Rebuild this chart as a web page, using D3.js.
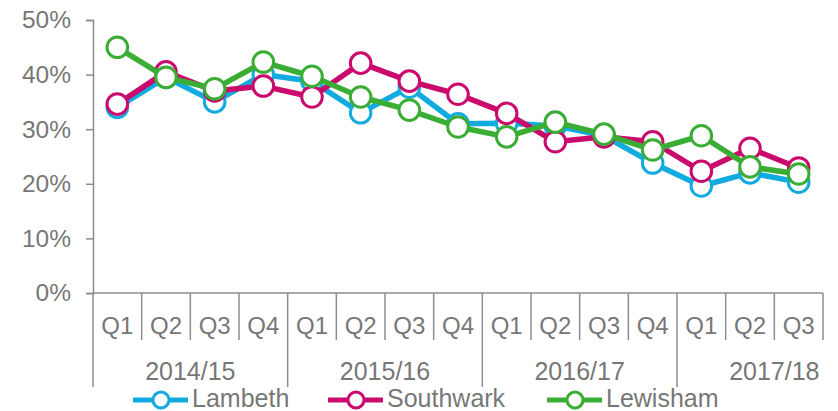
<!DOCTYPE html>
<html>
<head>
<meta charset="utf-8">
<script src="https://cdn.jsdelivr.net/npm/d3@7"></script>
<style>
  body { margin: 0; background: #fff; }
  text { font-family: "Liberation Sans", Arial, sans-serif; fill: #777; }
</style>
</head>
<body>
<svg width="838" height="411"></svg>
<script>
// data
var quarters = ["Q1","Q2","Q3","Q4","Q1","Q2","Q3","Q4","Q1","Q2","Q3","Q4","Q1","Q2","Q3"];
var years = ["2014/15","2015/16","2016/17","2017/18"];
var lambeth   = [0.340, 0.395, 0.350, 0.400, 0.388, 0.330, 0.377, 0.310, 0.311, 0.306, 0.288, 0.238, 0.196, 0.220, 0.203];
var southwark = [0.346, 0.405, 0.370, 0.379, 0.359, 0.421, 0.388, 0.364, 0.329, 0.277, 0.286, 0.277, 0.223, 0.265, 0.229];
var lewisham  = [0.450, 0.395, 0.374, 0.423, 0.397, 0.359, 0.335, 0.304, 0.286, 0.313, 0.291, 0.262, 0.288, 0.231, 0.218];
var seriesNames = ["Lambeth", "Southwark", "Lewisham"];
var colors = ["#12ABE0", "#CB0A6E", "#3AAE34"];

var svg = d3.select("svg");
var plotLeft = 93, plotRight = 823, plotTop = 20, plotBottom = 293;
var axisColor = "#8c8c8c";

var x = d3.scaleBand()
    .domain(d3.range(quarters.length))
    .range([plotLeft, plotRight]);
var y = d3.scaleLinear()
    .domain([0, 0.5])
    .range([plotBottom, plotTop]);

// y axis
var yAxis = d3.axisLeft(y)
    .ticks(5)
    .tickFormat(d3.format(".0%"))
    .tickSizeInner(7)
    .tickSizeOuter(7)
    .tickPadding(15);
var gy = svg.append("g")
    .attr("transform", "translate(" + plotLeft + ",0)")
    .call(yAxis);
gy.selectAll("path, line").attr("stroke", axisColor).attr("stroke-width", 1.5);
gy.selectAll("text").style("font-size", "24.5px").attr("fill", "#777").attr("font-family", null);

// x axis (multi level categories)
var bw = x.bandwidth();
svg.append("line")
    .attr("x1", plotLeft).attr("x2", plotRight)
    .attr("y1", plotBottom).attr("y2", plotBottom)
    .attr("stroke", axisColor).attr("stroke-width", 1.5);

svg.append("g").selectAll("line")
    .data(d3.range(quarters.length + 1))
    .join("line")
    .attr("x1", function(k) { return plotLeft + k * bw; })
    .attr("x2", function(k) { return plotLeft + k * bw; })
    .attr("y1", plotBottom)
    .attr("y2", function(k) { return (k % 4 == 0 && k < quarters.length) ? 387 : 340; })
    .attr("stroke", axisColor).attr("stroke-width", 1.5);

svg.append("g").selectAll("text")
    .data(quarters)
    .join("text")
    .attr("x", function(d, i) { return x(i) + bw / 2; })
    .attr("y", 334)
    .attr("text-anchor", "middle")
    .style("font-size", "24px")
    .text(function(d) { return d; });

svg.append("g").selectAll("text")
    .data(years)
    .join("text")
    .attr("x", function(d, i) { return plotLeft + (i * 4 + 2) * bw; })
    .attr("y", 380)
    .attr("text-anchor", "middle")
    .style("font-size", "25px")
    .text(function(d) { return d; });

// lines
var allSeries = [lambeth, southwark, lewisham];
var line = d3.line()
    .x(function(d, i) { return x(i) + bw / 2; })
    .y(function(d) { return y(d); });

allSeries.forEach(function(vals, s) {
    var g = svg.append("g");
    g.append("path")
        .datum(vals)
        .attr("d", line)
        .attr("fill", "none")
        .attr("stroke", colors[s])
        .attr("stroke-width", 5.5)
        .attr("stroke-linejoin", "round");
    g.selectAll("circle")
        .data(vals)
        .join("circle")
        .attr("cx", function(d, i) { return x(i) + bw / 2; })
        .attr("cy", function(d) { return y(d); })
        .attr("r", 10.3)
        .attr("fill", "#fff")
        .attr("stroke", colors[s])
        .attr("stroke-width", 3);
});

// legend
var legendX = [133, 328, 547];
var legend = svg.append("g");
seriesNames.forEach(function(name, s) {
    var lg = legend.append("g").attr("transform", "translate(" + legendX[s] + ",400)");
    lg.append("line")
        .attr("x1", 0).attr("x2", 55)
        .attr("stroke", colors[s]).attr("stroke-width", 5);
    lg.append("circle")
        .attr("cx", 28).attr("r", 8)
        .attr("fill", "#fff")
        .attr("stroke", colors[s]).attr("stroke-width", 3);
    lg.append("text")
        .attr("x", 59).attr("y", 7)
        .style("font-size", "25px")
        .text(name);
});
</script>
</body>
</html>
